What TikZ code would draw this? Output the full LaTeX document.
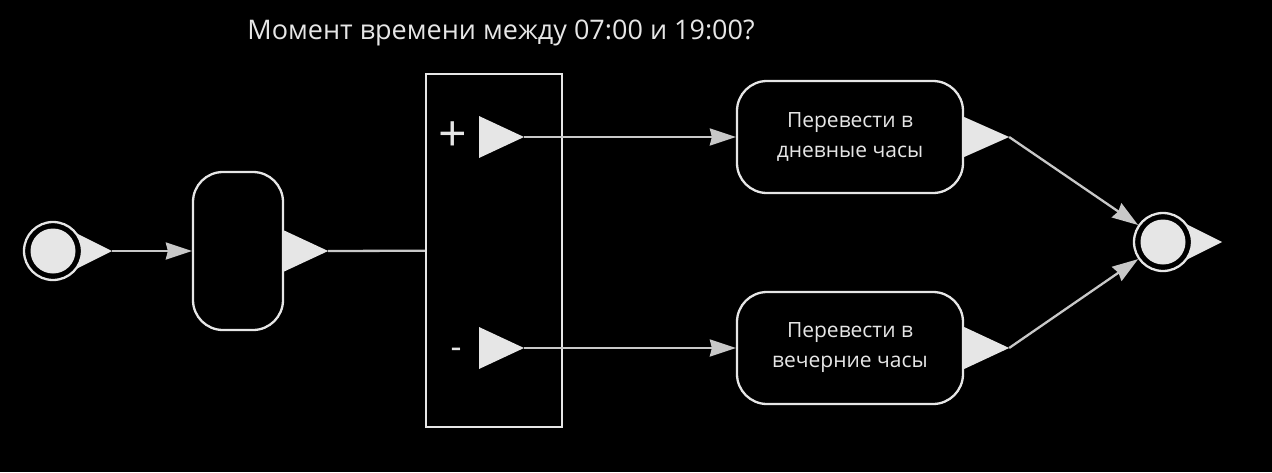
\documentclass[tikz,border=0pt]{standalone}
\usepackage{fontspec}
\setmainfont{Open Sans}
\usetikzlibrary{arrows.meta}
\definecolor{fg}{RGB}{230,230,230}
\definecolor{wire}{RGB}{200,200,200}

\begin{document}
\begin{tikzpicture}[x=1pt,y=-1pt,
  task/.style={draw=fg,line width=2.3pt,rounded corners=30pt,fill=black,text=fg,align=center,
    font=\fontsize{21}{30}\selectfont,inner sep=0pt},
  event/.style={circle,draw=fg,line width=2.3pt,fill=black,minimum size=58pt,inner sep=0pt},
  port/.style={fill=fg},
  flow/.style={draw=wire,line width=2.3pt,-{Stealth[length=26pt,width=17pt,inset=2pt]}},
  plain/.style={draw=wire,line width=2.3pt}]
\fill[black] (0,0) rectangle (1272,472);
\useasboundingbox (0,0) rectangle (1272,472);

% events: ports first, so the circles cover their bases
\coordinate (s) at (53,251);
\coordinate (e) at (1163,242);
\coordinate (startout) at (112,251);
\coordinate (endout) at (1222,242);
\fill[port] (60,225) -- (startout) -- (60,277) -- cycle;
\fill[port] (1170,216) -- (endout) -- (1170,268) -- cycle;
\node[event] (start) at (s) {};
\node[event] (end) at (e) {};
\fill[fg] (start) circle (22.5pt);
\fill[fg] (end) circle (22.5pt);

% tasks
\node[task,minimum width=90pt,minimum height=158pt] (check) at (238,251) {};
\node[task,minimum width=226pt,minimum height=112pt] (day) at (850,137) {Перевести в\\дневные часы};
\node[task,minimum width=226pt,minimum height=112pt] (eve) at (850,348) {Перевести в\\вечерние часы};

% gateway
\node[draw=fg,line width=2.3pt,minimum width=136pt,minimum height=353pt] (gw) at (494,250.5) {};
\node[text=fg,font=\fontsize{50}{50}\selectfont] (plus) at (453,137) {+};
\node[text=fg,font=\fontsize{34}{34}\selectfont] (minus) at (456,353) {-};
\node[text=fg,font=\fontsize{27}{27}\selectfont] (question) at (501,33) {Момент времени между 07:00 и 19:00?};

% ports
\coordinate (checkout) at ([xshift=44pt]check.east);
\coordinate (plusout) at (524,137);
\coordinate (minusout) at (524,348);
\coordinate (dayout) at ([xshift=45pt]day.east);
\coordinate (eveout) at ([xshift=45pt]eve.east);
\fill[port] ([yshift=20.5pt]check.east) -- (checkout) -- ([yshift=-20.5pt]check.east) -- cycle;
\fill[port] (479,116) -- (plusout) -- (479,158) -- cycle;
\fill[port] (479,327) -- (minusout) -- (479,369) -- cycle;
\fill[port] ([yshift=20pt]day.east) -- (dayout) -- ([yshift=-20pt]day.east) -- cycle;
\fill[port] ([yshift=21pt]eve.east) -- (eveout) -- ([yshift=-21pt]eve.east) -- cycle;

% flows
\draw[flow] (startout) -- (check);
\draw[plain] (checkout) -- (gw);
\draw[flow] (plusout) -- (day);
\draw[flow] (minusout) -- (eve);
\draw[flow] (dayout) -- (end);
\draw[flow] (eveout) -- (end);
\end{tikzpicture}
\end{document}
